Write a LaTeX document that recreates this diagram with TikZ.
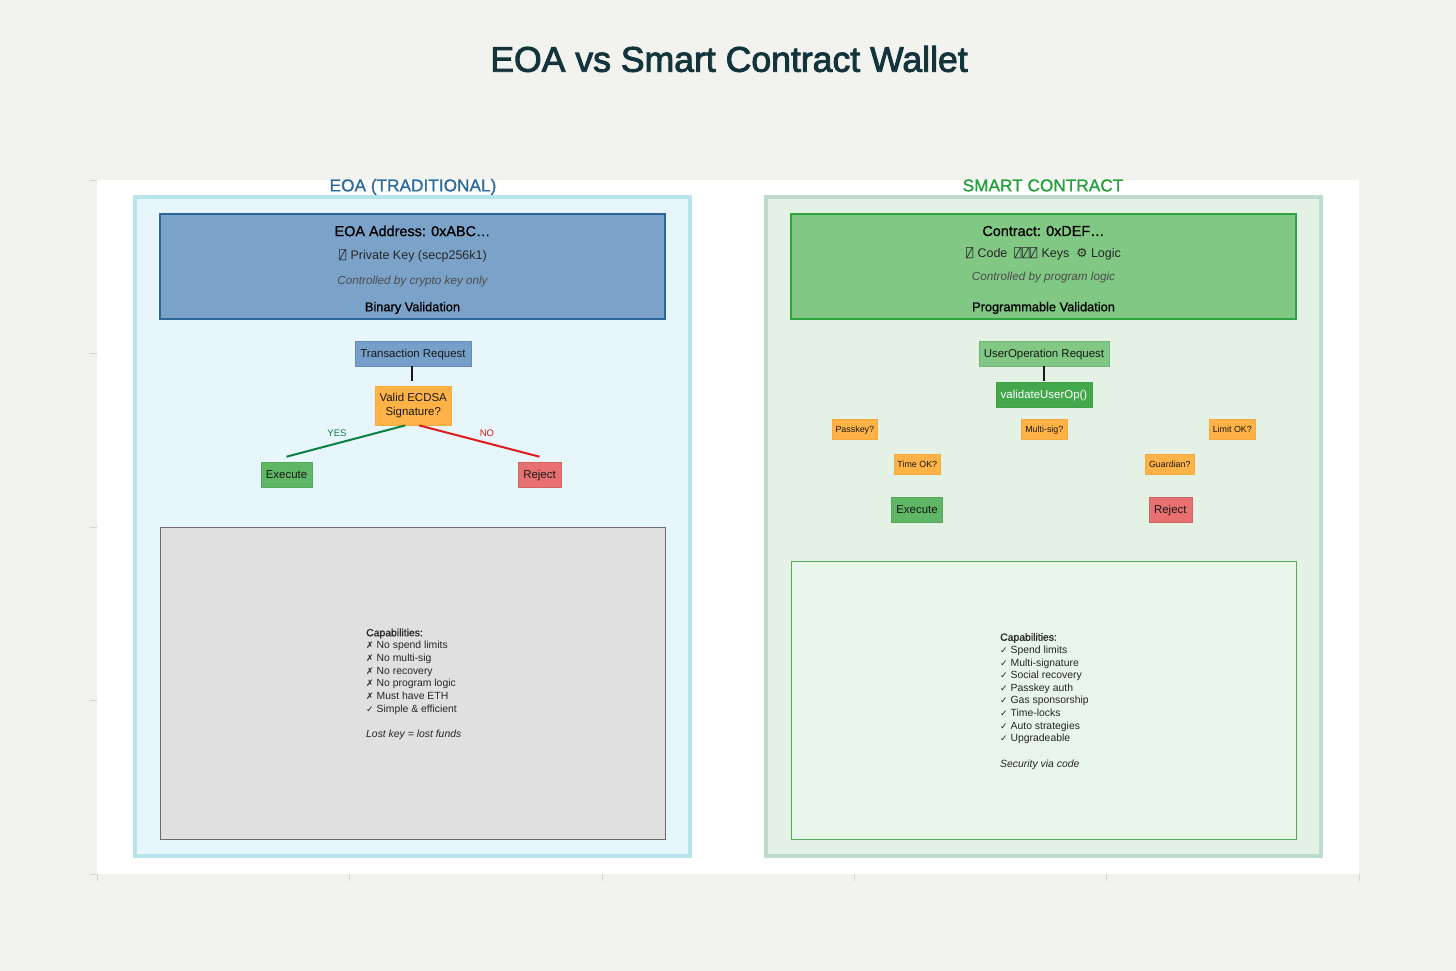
\documentclass[tikz,border=0pt]{standalone}
\usepackage{fontspec}
\setmainfont{Liberation Sans}
\newfontfamily\medfont[FakeBold=0.9]{Liberation Sans}
\newfontfamily\titlefont[FakeBold=2.5]{Liberation Sans}
\newfontfamily\symfont{DejaVu Sans}
\newfontfamily\tofufont{DejaVu Sans Mono}
\newcommand{\tofu}{{\tofufont\fontsize{12}{15}\selectfont\char"2341}\kern.7pt}
\newcommand{\capsym}[1]{{\symfont\fontsize{9}{12.65}\selectfont #1}\ }
\definecolor{pagebg}{HTML}{F2F3EE}
\definecolor{tickc}{HTML}{D6D6D0}
\definecolor{titlec}{HTML}{13343B}
\definecolor{bluet}{HTML}{2A6A9E}
\definecolor{greent}{HTML}{22A038}
\definecolor{orangef}{HTML}{FFB347}
\definecolor{oranged}{HTML}{F5A93F}
\definecolor{greenf}{HTML}{5FB766}
\definecolor{redf}{HTML}{E87070}
\definecolor{HTMLbluepanel}{HTML}{B8E5EC}
\definecolor{HTMLbluefill}{HTML}{E6F6FA}
\definecolor{HTMLbluehead}{HTML}{2F6699}
\definecolor{HTMLblueheadf}{HTML}{7BA3C9}
\definecolor{HTMLblueheadn}{HTML}{76A0C9}
\definecolor{HTMLgreenline}{HTML}{0B8043}
\definecolor{HTMLredline}{HTML}{DD1C1C}
\definecolor{HTMLgreyline}{HTML}{6B6B6B}
\definecolor{HTMLgreyfill}{HTML}{E0E0E0}
\definecolor{HTMLgreenpanel}{HTML}{BDDCCB}
\definecolor{HTMLgreenfill}{HTML}{E4F2E6}
\definecolor{HTMLgreenhead}{HTML}{2EA53F}
\definecolor{HTMLgreenheadf}{HTML}{80C883}
\definecolor{HTMLvalid}{HTML}{43A74B}
\definecolor{HTMLcapline}{HTML}{55A860}
\definecolor{HTMLcapfill}{HTML}{E8F5E9}
\tikzset{
  x=1pt,y=-1pt,
  panel/.style={line width=4pt},
  headbox/.style={line width=2.2pt},
  flow/.style={draw,inner sep=0pt,font=\fontsize{11.45}{14.2}\selectfont,align=center,text=black!90,line width=.6pt},
  oneline/.style={text height=9.5pt,text depth=1.5pt},
  reqb/.style={flow,oneline,fill=#1},
  cond/.style={flow,fill=orangef,draw=oranged,line width=.8pt},
  small/.style={cond,oneline,text height=8pt,text depth=1pt,font=\fontsize{8.9}{11}\selectfont},
  okb/.style={flow,oneline,fill=greenf,draw=greenf!92!black},
  nob/.style={flow,oneline,fill=redf,draw=redf!90!black},
  paneltitle/.style={font=\medfont\fontsize{17.25}{20}\selectfont,inner sep=0pt,text height=12.4pt,text depth=3.6pt},
  headtitle/.style={font=\medfont\fontsize{14.4}{18}\selectfont,inner sep=0pt,text=black},
  headline/.style={font=\fontsize{12.5}{15}\selectfont,inner sep=0pt,text=black!85},
  headital/.style={font=\itshape\fontsize{11.7}{13}\selectfont,inner sep=0pt,text=black!70},
  headbold/.style={font=\medfont\fontsize{12.8}{15}\selectfont,inner sep=0pt,text=black},
  caplist/.style={inner sep=0pt,align=left,anchor=north west,text=black!85,font=\fontsize{10.4}{12.65}\selectfont},
  link/.style={line width=2pt,black!90},
  branch/.style={line width=2pt},
  blabel/.style={inner sep=0pt,font=\fontsize{9.5}{11}\selectfont},
}
\begin{document}
\begin{tikzpicture}
\useasboundingbox (0,0) rectangle (1456,971);
\fill[pagebg] (0,0) rectangle (1456,971);
\fill[white] (97,180) rectangle (1359,874);
\foreach \yy in {180,353.5,527,700.5,874} \draw[tickc,line width=.9pt] (90,\yy) -- (97,\yy);
\foreach \xx in {97,349.5,602,854,1106.5,1359} \draw[tickc,line width=.9pt] (\xx,874) -- (\xx,881);
\node[font=\titlefont\fontsize{35.6}{38}\selectfont,text=titlec,inner sep=0pt] (title) at (729,59) {EOA vs Smart Contract Wallet};

% left panel
\draw[panel,draw=HTMLbluepanel,fill=HTMLbluefill] (135,197) rectangle (690,856);
\node[paneltitle,text=bluet] (ltitle) at (413,187) {EOA (TRADITIONAL)};
\draw[headbox,draw=HTMLbluehead,fill=HTMLblueheadf] (160,214) rectangle (665,319);
\node[headtitle] (la) at (412.5,231) {EOA Address: 0xABC…};
\node[headline] (lb) at (413,256) {\tofu\ Private Key (secp256k1)};
\node[headital] (lc) at (412.5,281) {Controlled by crypto key only};
\node[headbold] (ld) at (412.5,308) {Binary Validation};
\node[reqb=HTMLblueheadn,draw=HTMLblueheadn!88!black,minimum width=116pt,minimum height=25pt] (ltx) at (413,353.5) {Transaction Request};
\node[cond,minimum width=76.5pt,minimum height=39pt] (lv) at (413.2,405.5) {Valid ECDSA\\Signature?};
\node[okb,minimum width=51pt,minimum height=25pt] (lex) at (286.5,474.5) {Execute};
\node[nob,minimum width=43pt,minimum height=25pt] (lre) at (539.5,474.5) {Reject};
\draw[link] ([xshift=-1pt]ltx.south) -- ([xshift=-1.2pt,yshift=5pt]lv.north);
\draw[branch,draw=HTMLgreenline] ([xshift=-8pt]lv.south) -- ([yshift=5pt]lex.north);
\draw[branch,draw=HTMLredline] ([xshift=6pt]lv.south) -- ([yshift=5pt]lre.north);
\node[blabel,text=HTMLgreenline] (ly) at (337,433) {YES};
\node[blabel,text=HTMLredline] (ln) at (487,433) {NO};
\draw[draw=HTMLgreyline,fill=HTMLgreyfill,line width=.9pt] (160,527) rectangle (665,839);
\node[caplist] (lcap) at (366,628.5) {{\medfont Capabilities:}\\
\capsym{✗}No spend limits\\
\capsym{✗}No multi-sig\\
\capsym{✗}No recovery\\
\capsym{✗}No program logic\\
\capsym{✗}Must have ETH\\
\capsym{✓}Simple \& efficient\\[12.65pt]
\textit{Lost key = lost funds}};

% right panel
\draw[panel,draw=HTMLgreenpanel,fill=HTMLgreenfill] (766,197) rectangle (1321,856);
\node[paneltitle,text=greent] (rtitle) at (1043,187) {SMART CONTRACT};
\draw[headbox,draw=HTMLgreenhead,fill=HTMLgreenheadf] (791,214) rectangle (1296,319);
\node[headtitle] (ra) at (1043.5,231) {Contract: 0xDEF…};
\node[headline] (rb) at (1043.5,254) {\tofu\ Code\ \ \tofu\tofu\tofu\ Keys\ \ {\symfont\fontsize{12.5}{15}\selectfont ⚙}\ Logic};
\node[headital] (rc) at (1043.5,277) {Controlled by program logic};
\node[headbold] (rd) at (1043.5,308) {Programmable Validation};
\node[reqb=HTMLgreenheadf,draw=HTMLgreenheadf!90!black,minimum width=130pt,minimum height=25pt] (rop) at (1044,353.5) {UserOperation Request};
\node[flow,oneline,fill=HTMLvalid,draw=HTMLvalid!95!black,text=white,minimum width=96pt,minimum height=25pt] (rval) at (1044,394.5) {validateUserOp()};
\draw[link] (rop.south) -- ([yshift=1pt]rval.north);
\node[small,minimum width=45.5pt,minimum height=20pt] (p1) at (854.8,429) {Passkey?};
\node[small,minimum width=46.5pt,minimum height=20pt] (p2) at (1044.3,429) {Multi-sig?};
\node[small,minimum width=46.5pt,minimum height=20pt] (p3) at (1232.3,429) {Limit OK?};
\node[small,minimum width=46.5pt,minimum height=20pt] (p4) at (917.3,464) {Time OK?};
\node[small,minimum width=49.5pt,minimum height=20pt] (p5) at (1169.8,464) {Guardian?};
\node[okb,minimum width=51.5pt,minimum height=25pt] (rex) at (917,509.5) {Execute};
\node[nob,minimum width=43pt,minimum height=25pt] (rre) at (1170.3,509.5) {Reject};
\draw[draw=HTMLcapline,fill=HTMLcapfill,line width=.9pt] (791,561) rectangle (1296,839);
\node[caplist] (rcap) at (1000,633) {{\medfont Capabilities:}\\
\capsym{✓}Spend limits\\
\capsym{✓}Multi-signature\\
\capsym{✓}Social recovery\\
\capsym{✓}Passkey auth\\
\capsym{✓}Gas sponsorship\\
\capsym{✓}Time-locks\\
\capsym{✓}Auto strategies\\
\capsym{✓}Upgradeable\\[12.65pt]
\textit{Security via code}};
\end{tikzpicture}
\end{document}
